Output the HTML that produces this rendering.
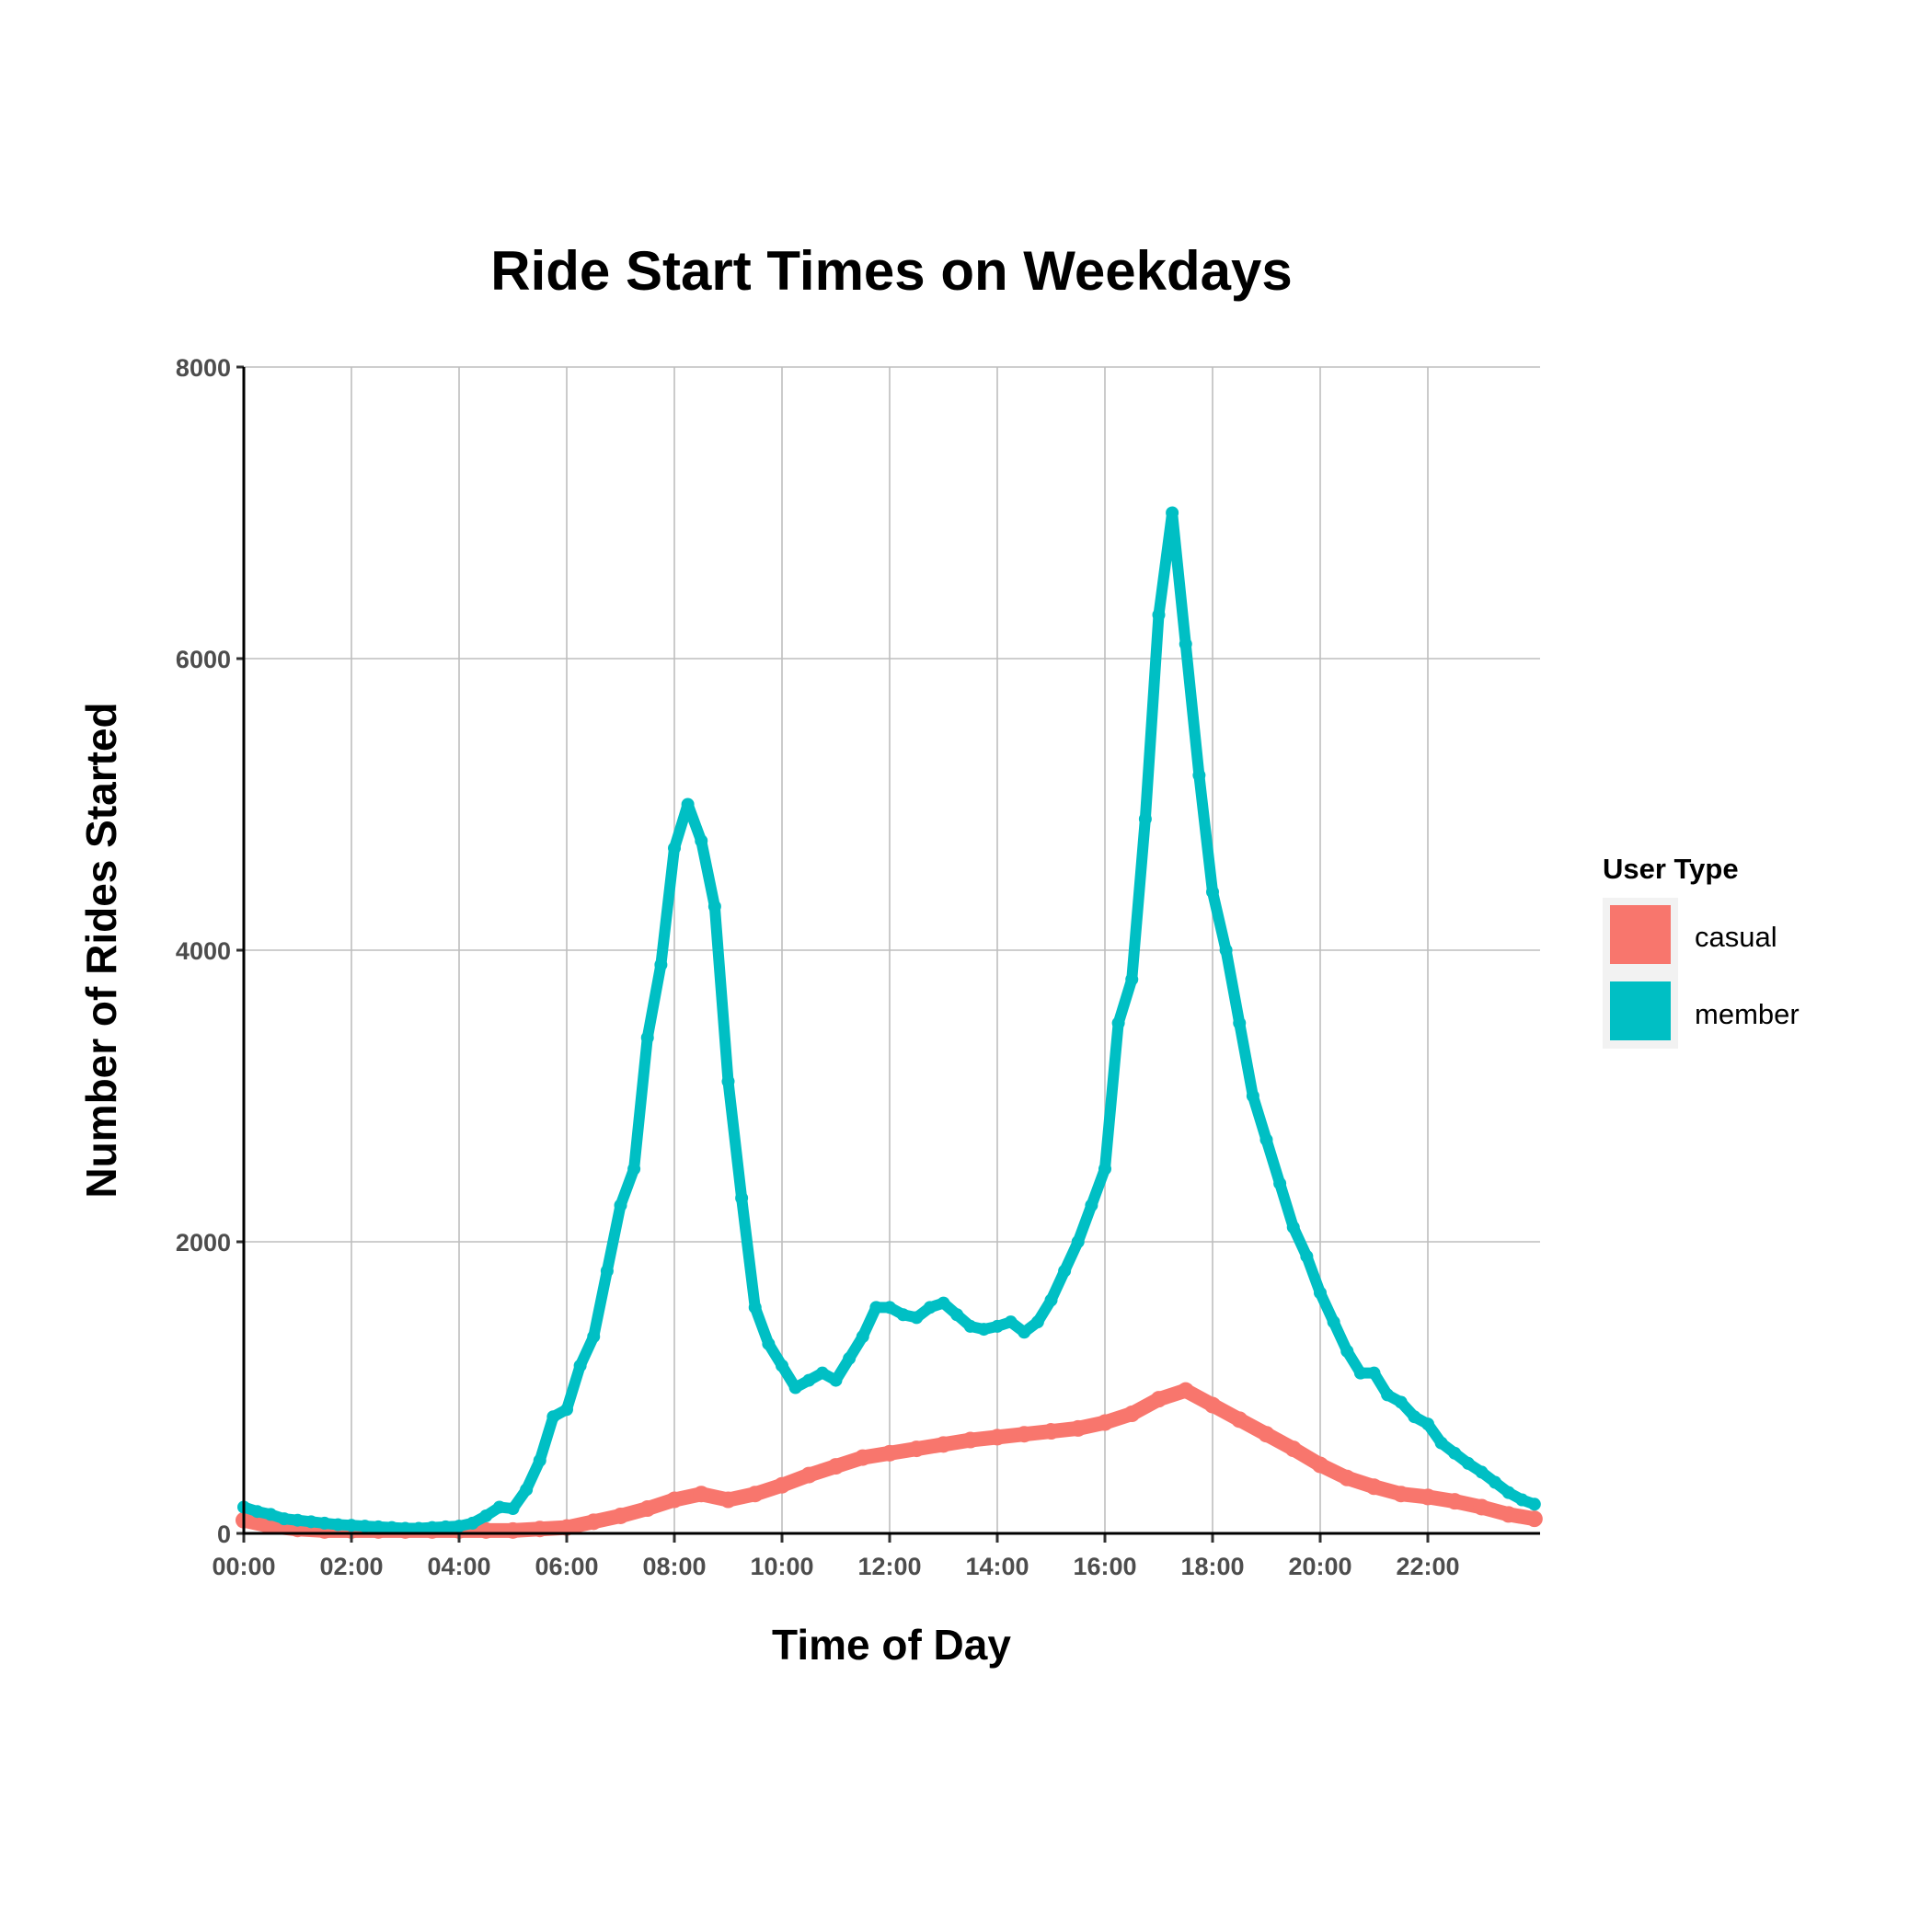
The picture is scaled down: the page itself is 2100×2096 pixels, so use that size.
<!DOCTYPE html>
<html><head><meta charset="utf-8"><style>
html,body{margin:0;padding:0;background:#fff;}
svg{display:block;font-family:"Liberation Sans",Arial,sans-serif;}
</style></head><body>
<svg id="chart" width="2100" height="2096" viewBox="0 0 2100 2096" xmlns="http://www.w3.org/2000/svg">
<rect width="2100" height="2096" fill="#fff"/>
<text x="969" y="315" font-size="60" font-weight="bold" text-anchor="middle" fill="#000">Ride Start Times on Weekdays</text>
<g id="grid"></g>
<g id="series"></g>
<g id="axes"></g>
<text x="969" y="1804" font-size="46" font-weight="bold" text-anchor="middle" fill="#000">Time of Day</text>
<text transform="translate(126,1033) rotate(-90)" font-size="46" font-weight="bold" text-anchor="middle" fill="#000">Number of Rides Started</text>
<g>
<text x="1742" y="955" font-size="31" font-weight="bold" fill="#000">User Type</text>
<rect x="1742" y="976" width="82" height="164" fill="#f2f2f2"/>
<rect x="1750" y="984" width="66" height="64" fill="#F8766D"/>
<rect x="1750" y="1067" width="66" height="64" fill="#00BFC4"/>
<text x="1842" y="1029" font-size="31" fill="#000">casual</text>
<text x="1842" y="1113" font-size="31" fill="#000">member</text>
</g>
</svg>
<script>
const xTickLabels = ["00:00","02:00","04:00","06:00","08:00","10:00","12:00","14:00","16:00","18:00","20:00","22:00"];
const xTickHours = [0,2,4,6,8,10,12,14,16,18,20,22];
const yTicks = [0,2000,4000,6000,8000];
const memberValues = [180,150,130,100,90,80,70,60,55,50,45,40,35,35,40,45,50,70,120,180,170,300,500,800,850,1150,1350,1800,2250,2500,3400,3900,4700,5000,4750,4300,3100,2300,1550,1300,1150,1000,1050,1100,1050,1200,1350,1550,1550,1500,1480,1550,1580,1500,1420,1400,1420,1450,1380,1450,1600,1800,2000,2250,2500,3500,3800,4900,6300,7000,6100,5200,4400,4000,3500,3000,2700,2400,2100,1900,1650,1450,1250,1100,1100,950,900,800,750,620,550,480,420,350,280,230,200];
const casualValues = [90,50,30,20,20,20,20,20,20,20,20,30,40,80,120,170,230,270,230,270,330,400,460,520,550,580,610,640,660,680,700,720,760,820,920,980,880,780,680,580,470,380,320,270,250,220,180,130,100];

const NS="http://www.w3.org/2000/svg";
const X0=265, PX_PER_H=58.5, Y0=1667, PX_PER_UNIT=1268/8000, XR=1674;
function xs(h){return X0+h*PX_PER_H;}
function ys(v){return Y0-v*PX_PER_UNIT;}
function mk(tag,attrs,parent){const e=document.createElementNS(NS,tag);for(const k in attrs)e.setAttribute(k,attrs[k]);parent.appendChild(e);return e;}
const grid=document.getElementById('grid'), axes=document.getElementById('axes'), series=document.getElementById('series');

yTicks.forEach(v=>{
  const l=mk('line',{x1:X0,x2:XR,y1:ys(v),y2:ys(v),stroke:'#bebebe','stroke-width':1.6},grid);
  
  
  const t=mk('line',{x1:X0-8,x2:X0,y1:ys(v),y2:ys(v),stroke:'#333','stroke-width':3},axes);
  
  
  const tx=mk('text',{x:X0-14,y:ys(v)+10,'font-size':27,'font-weight':'bold','text-anchor':'end',fill:'#4d4d4d'},axes);
  tx.textContent=String(v);
  
  
});
xTickHours.forEach((h,i)=>{
  if(h>0){const l=mk('line',{x1:xs(h),x2:xs(h),y1:399,y2:Y0,stroke:'#bebebe','stroke-width':1.6},grid);
  
  }
  const t=mk('line',{x1:xs(h),x2:xs(h),y1:Y0,y2:Y0+10,stroke:'#333','stroke-width':3},axes);
  
  
  const tx=mk('text',{x:xs(h),y:Y0+45,'font-size':27,'font-weight':'bold','text-anchor':'middle',fill:'#4d4d4d'},axes);
  tx.textContent=xTickLabels[i];
  
  
});
const ya=mk('line',{x1:X0,x2:X0,y1:399,y2:Y0+1.5,stroke:'#000','stroke-width':3},axes);


const xa=mk('line',{x1:X0-1.5,x2:XR,y1:Y0,y2:Y0,stroke:'#000','stroke-width':3},axes);



function drawSeries(vals,stepH,color,width,name){
  const pts=vals.map((v,i)=>[xs(Math.min(i*stepH,23.98)),ys(v)]);
  const pl=mk('polyline',{points:pts.map(p=>p.join(',')).join(' '),fill:'none',stroke:color,'stroke-width':width,'stroke-linejoin':'round','stroke-linecap':'round'},series);
  
  
  pts.forEach(p=>{
    const c=mk('circle',{cx:p[0],cy:p[1],r:width/2+1,fill:color},series);
    
    
  });
}
drawSeries(casualValues,0.5,'#F8766D',16,'casual');
drawSeries(memberValues,0.25,'#00BFC4',12,'member');
</script>
</body></html>
